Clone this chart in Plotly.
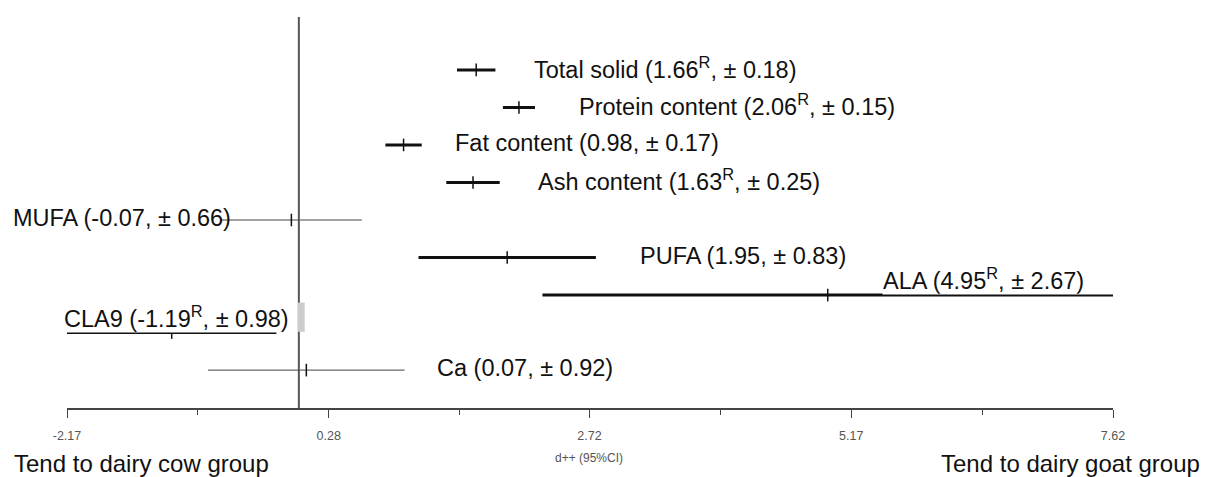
import plotly.graph_objects as go

# ---- data ----
outcomes = ["Total solid", "Protein content", "Fat content", "Ash content",
            "MUFA", "PUFA", "ALA", "CLA9", "Ca"]
effect = [1.66, 2.06, 0.98, 1.63, -0.07, 1.95, 4.95, -1.19, 0.07]
ci_half = [0.18, 0.15, 0.17, 0.25, 0.66, 0.83, 2.67, 0.98, 0.92]
sig = [True, True, False, True, False, False, True, True, False]
tick_vals = [-2.17, 0.28, 2.72, 5.17, 7.62]
tick_text = ["-2.17", "0.28", "2.72", "5.17", "7.62"]

# ---- style/positions (not data) ----
line_w = [3, 3, 3, 3, 1, 3, 3, 3, 1]
label_x = [2.18, 2.60, 1.44, 2.22, -0.62, 3.17, 5.46, -0.08, 1.27]
label_anchor = ["left", "left", "left", "left", "right", "left", "left", "right", "left"]
covered = [False, False, False, False, False, False, True, True, False]
box_w = [None] * 6 + [232, None, None]
LABEL_FONT = dict(family="Liberation Sans, Arial", size=23.5, color="#111111")
TICK_FONT = dict(family="Liberation Sans Narrow, Liberation Sans, Arial", size=12.5, color="#555555")

fig = go.Figure()
rows = list(range(len(outcomes)))

for i in rows:
    fig.add_trace(go.Scatter(
        x=[effect[i] - ci_half[i], effect[i] + ci_half[i]], y=[rows[i], rows[i]],
        mode="lines", line=dict(color="#111111" if line_w[i] > 1 else "#444444", width=line_w[i]),
        hoverinfo="skip", showlegend=False, cliponaxis=False))

fig.add_trace(go.Scatter(
    x=effect, y=rows, mode="markers",
    marker=dict(symbol="line-ns", size=9, line=dict(color="#111111", width=1.5)),
    showlegend=False, cliponaxis=False))

# zero line
fig.add_shape(type="line", x0=0, x1=0, y0=-1.41, y1=9.01, xref="x", yref="y",
              line=dict(color="#555555", width=2))
# grey mark near CLA9
fig.add_shape(type="rect", x0=-0.01, x1=0.055, y0=6.2, y1=6.98, xref="x", yref="y",
              line=dict(width=0), fillcolor="#cccccc")

for i in rows:
    txt = f"{outcomes[i]} ({effect[i]:.2f}{'<sup>R</sup>' if sig[i] else ''}, ± {ci_half[i]:.2f})"
    if covered[i]:
        kw = dict(width=box_w[i], align="left") if box_w[i] else {}
        fig.add_annotation(
            x=label_x[i], y=rows[i], xref="x", yref="y", text=txt,
            showarrow=False, xanchor=label_anchor[i], yanchor="bottom", yshift=-0.4,
            font=LABEL_FONT, bgcolor="white", borderpad=0, **kw)
    else:
        fig.add_annotation(
            x=label_x[i], y=rows[i], xref="x", yref="y", text=txt,
            showarrow=False, xanchor=label_anchor[i], yanchor="middle", yshift=2,
            font=LABEL_FONT)

# pixel geometry of the figure (page has an 8px body margin)
W, H = 1200, 469
ML, MR, MT, MB = 59, 95, 9, 69
pw, ph = W - ML - MR, H - MT - MB


def px_x(px):
    return (px - ML) / pw


def px_y(py):
    return (H - MB - py) / ph


BOTTOM_FONT = dict(family="Liberation Sans, Arial", size=24, color="#111111")
fig.add_annotation(x=px_x(4), y=px_y(455), xref="paper", yref="paper", text="Tend to dairy cow group",
                   showarrow=False, xanchor="left", yanchor="middle", font=BOTTOM_FONT)
fig.add_annotation(x=px_x(1194), y=px_y(455), xref="paper", yref="paper", text="Tend to dairy goat group",
                   showarrow=False, xanchor="right", yanchor="middle", font=BOTTOM_FONT)
fig.add_annotation(x=2.72, y=px_y(450), xref="x", yref="paper", text="d++ (95%CI)",
                   showarrow=False, xanchor="center", yanchor="middle",
                   font=dict(family="Liberation Sans Narrow, Liberation Sans, Arial", size=12, color="#555555"))

minor_vals = [(tick_vals[k] + tick_vals[k + 1]) / 2 for k in range(len(tick_vals) - 1)]

fig.update_layout(
    width=W, height=H, plot_bgcolor="white", paper_bgcolor="white",
    margin=dict(l=ML, r=MR, t=MT, b=MB),
    xaxis=dict(range=[-2.17, 7.62], tickvals=tick_vals, ticktext=tick_text,
               showgrid=False, zeroline=False, showline=True, linecolor="#444444", linewidth=1.5,
               ticks="outside", ticklen=8, tickwidth=1, tickcolor="#444444",
               ticklabelstandoff=7, tickfont=TICK_FONT,
               minor=dict(tickvals=minor_vals, ticks="outside", ticklen=5, tickcolor="#444444")),
    yaxis=dict(range=[9.01, -1.41], showgrid=False, zeroline=False, showline=False,
               showticklabels=False, ticks=""),
)

fig.write_html("out.html")
